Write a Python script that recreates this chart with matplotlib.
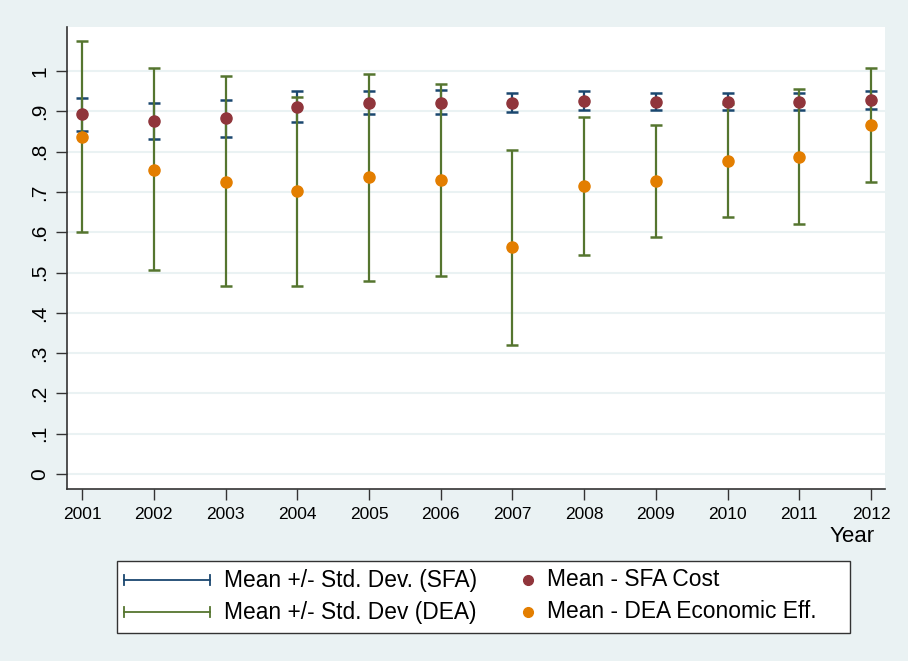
import matplotlib
matplotlib.use("Agg")
import matplotlib.pyplot as plt
from matplotlib.lines import Line2D
from matplotlib.patches import Rectangle
import numpy as np

plt.rcParams['font.family'] = ['Liberation Sans', 'DejaVu Sans']

years = [2001, 2002, 2003, 2004, 2005, 2006, 2007, 2008, 2009, 2010, 2011, 2012]

# SFA cost efficiency: mean and mean +/- std. dev.
sfa_mean = [0.892, 0.876, 0.883, 0.910, 0.921, 0.921, 0.921, 0.926, 0.924, 0.923, 0.924, 0.929]
sfa_low = [0.852, 0.832, 0.836, 0.873, 0.894, 0.894, 0.897, 0.902, 0.904, 0.902, 0.902, 0.906]
sfa_high = [0.933, 0.921, 0.929, 0.949, 0.949, 0.952, 0.946, 0.950, 0.944, 0.944, 0.944, 0.949]

# DEA economic efficiency: mean and mean +/- std. dev.
dea_mean = [0.836, 0.754, 0.725, 0.703, 0.736, 0.730, 0.563, 0.714, 0.727, 0.777, 0.786, 0.867]
dea_low = [0.600, 0.505, 0.466, 0.466, 0.480, 0.491, 0.320, 0.543, 0.588, 0.638, 0.620, 0.725]
dea_high = [1.074, 1.007, 0.987, 0.936, 0.993, 0.967, 0.804, 0.886, 0.867, 0.917, 0.955, 1.007]

yticks = [0, .1, .2, .3, .4, .5, .6, .7, .8, .9, 1]
ytick_labels = ['0', '.1', '.2', '.3', '.4', '.5', '.6', '.7', '.8', '.9', '1']

navy = '#1A476F'
maroon = '#90353B'
green = '#55752F'
orange = '#E37E00'
bg = '#EAF2F3'

fig = plt.figure(figsize=(9.08, 6.61), dpi=100)
fig.patch.set_facecolor(bg)
ax = fig.add_axes([0.0738, 0.2602, 0.9009, 0.699])
ax.set_facecolor('white')

x = np.array(years)


def rcap(lo, hi, color, z):
    lo = np.array(lo)
    hi = np.array(hi)
    ax.vlines(x, lo, hi, color=color, lw=1.6, zorder=z)
    for v in (lo, hi):
        ax.plot(x, v, ls='none', marker='_', ms=9, mew=1.8, color=color, zorder=z)


rcap(sfa_low, sfa_high, navy, 3)
rcap(dea_low, dea_high, green, 4)
ax.plot(x, sfa_mean, ls='none', marker='o', ms=8, color=maroon, zorder=5)
ax.plot(x, dea_mean, ls='none', marker='o', ms=8, color=orange, zorder=6)

ax.set_xlim(2000.79, 2012.195)
ax.set_ylim(-0.037, 1.109)
ax.set_xticks(years)
ax.set_xticklabels([str(y) for y in years], fontsize=12.5)
ax.set_yticks(yticks)
ax.set_yticklabels(ytick_labels, fontsize=15, rotation=90, va='center')
ax.tick_params(axis='both', length=8, width=1, color='#333333')
ax.tick_params(axis='x', pad=5)
ax.tick_params(axis='y', pad=5)
ax.grid(axis='y', color=bg, lw=1.5, zorder=0)
ax.set_axisbelow(True)
for s in ('top', 'right'):
    ax.spines[s].set_visible(False)
for s in ('left', 'bottom'):
    ax.spines[s].set_color('#333333')
    ax.spines[s].set_linewidth(1.2)

fig.text(852 / 908, 1 - 536 / 661, 'Year', fontsize=16, ha='center', va='center')

# legend box, drawn in figure pixels
def fx(px):
    return px / 908


def fy(py):
    return 1 - py / 661


fig.patches.append(Rectangle((fx(117), fy(633)), fx(850) - fx(117), fy(561) - fy(633),
                             transform=fig.transFigure, facecolor='white',
                             edgecolor='#333333', lw=1))

rows = [(580, navy, 'Mean +/- Std. Dev. (SFA)', maroon, 'Mean - SFA Cost'),
        (612, green, 'Mean +/- Std. Dev (DEA)', orange, 'Mean - DEA Economic Eff.')]
for py, lc, ltxt, mc, mtxt in rows:
    fig.lines.append(Line2D([fx(124), fx(210)], [fy(py), fy(py)], color=lc, lw=1.3,
                            transform=fig.transFigure))
    for ex in (124, 210):
        fig.lines.append(Line2D([fx(ex), fx(ex)], [fy(py - 5), fy(py + 5)], color=lc, lw=1.3,
                                transform=fig.transFigure))
    fig.text(fx(224), fy(py), ltxt, fontsize=16.4, va='center', ha='left')
    fig.lines.append(Line2D([fx(528)], [fy(py)], marker='o', ms=7, color=mc, ls='none',
                            transform=fig.transFigure))
    fig.text(fx(547), fy(py), mtxt, fontsize=16.4, va='center', ha='left')

fig.savefig('out.png', dpi=100, facecolor=bg)
